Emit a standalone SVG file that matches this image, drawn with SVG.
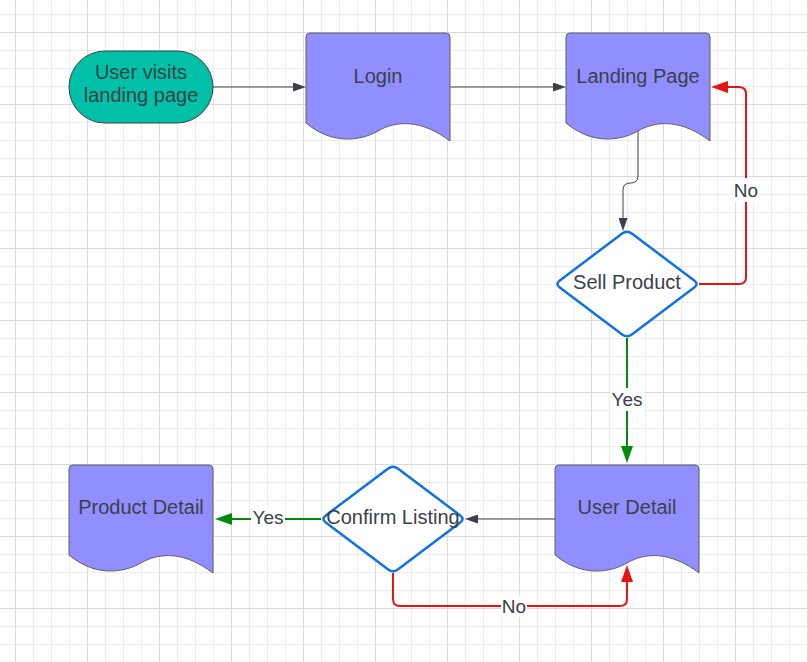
<svg xmlns="http://www.w3.org/2000/svg" xmlns:xlink="http://www.w3.org/1999/xlink" width="808" height="662" viewBox="0 0 808 662">
<style>
.t{font-family:"Liberation Sans",Arial,sans-serif;font-size:20px;fill:#3a414a;text-anchor:middle}
.lbl{font-family:"Liberation Sans",Arial,sans-serif;font-size:19px;fill:#3a414a;text-anchor:middle}
.doc{fill:#918fff;stroke:#5f5f66;stroke-width:1}
.dia{fill:#ffffff;stroke:#1071e5;stroke-width:2.5}
.ed{fill:none;stroke:#3a414a;stroke-width:1}
.er{fill:none;stroke:#e81313;stroke-width:2}
.eg{fill:none;stroke:#008a0e;stroke-width:2}
.lb{fill:#ffffff}
</style>
<defs>
<pattern id="grid" patternUnits="userSpaceOnUse" x="15" y="32" width="72" height="72">
<rect x="18" y="0" width="1" height="72" fill="#ececec"/>
<rect x="36" y="0" width="1" height="72" fill="#ececec"/>
<rect x="54" y="0" width="1" height="72" fill="#ececec"/>
<rect x="0" y="18" width="72" height="1" fill="#ececec"/>
<rect x="0" y="36" width="72" height="1" fill="#ececec"/>
<rect x="0" y="54" width="72" height="1" fill="#ececec"/>
<rect x="0" y="0" width="1" height="72" fill="#dadada"/>
<rect x="0" y="0" width="72" height="1" fill="#dadada"/>
</pattern>
<path id="docshape" d="M0,4 Q0,0 4,0 H140 Q144,0 144,4 V108 C115,86 90,87.5 72,98 C60,105 30,115 0,90 Z"/>
<marker id="ad" markerUnits="userSpaceOnUse" markerWidth="13" markerHeight="9" refX="7" refY="4.5" orient="auto"><path d="M0,0 L13,4.5 L0,9 Z" fill="#3a414a"/></marker>
<marker id="ar" markerUnits="userSpaceOnUse" markerWidth="17" markerHeight="12" refX="11" refY="6" orient="auto"><path d="M0,0 L17,6 L0,12 Z" fill="#e81313"/></marker>
<marker id="ag" markerUnits="userSpaceOnUse" markerWidth="17" markerHeight="12" refX="11" refY="6" orient="auto"><path d="M0,0 L17,6 L0,12 Z" fill="#008a0e"/></marker>
</defs>
<rect x="0" y="0" width="808" height="662" fill="#ffffff"/>
<rect x="0" y="0" width="808" height="662" fill="url(#grid)"/>

<g id="connectors">
<path class="ed" d="M213,87 H300" marker-end="url(#ad)"/>
<path class="ed" d="M450,87 H560" marker-end="url(#ad)"/>
<path class="ed" d="M638,131 V176 Q638,183 630.5,183 Q623,183 623,190 V225" marker-end="url(#ad)"/>
<path class="er" d="M699,284 H739 Q746,284 746,277 V94 Q746,87 739,87 H717" marker-end="url(#ar)"/>
<path class="eg" d="M627,338 V457" marker-end="url(#ag)"/>
<path class="ed" d="M555,519 H471" marker-end="url(#ad)"/>
<path class="eg" d="M321,519 H221" marker-end="url(#ag)"/>
<path class="er" d="M393,573 V599 Q393,606 400,606 H620 Q627,606 627,599 V571" marker-end="url(#ar)"/>
<g id="label-no-1"><rect class="lb" x="733" y="178" width="26" height="24"/><text class="lbl" x="746" y="197">No</text></g>
<g id="label-yes-1"><rect class="lb" x="610" y="388" width="34" height="23"/><text class="lbl" x="627" y="406">Yes</text></g>
<g id="label-yes-2"><rect class="lb" x="251" y="506" width="34" height="23"/><text class="lbl" x="268" y="524">Yes</text></g>
<g id="label-no-2"><rect class="lb" x="501" y="595" width="26" height="22"/><text class="lbl" x="514" y="613">No</text></g>
</g>

<g id="start">
<rect x="69" y="51" width="144" height="72" rx="36" ry="36" fill="#00c1a8" stroke="#3a414a" stroke-width="1"/>
<text class="t" x="141" y="79">User visits</text>
<text class="t" x="141" y="102">landing page</text>
</g>
<g id="login">
<use xlink:href="#docshape" class="doc" x="306" y="33"/>
<text class="t" x="378" y="83">Login</text>
</g>
<g id="landing-page">
<use xlink:href="#docshape" class="doc" x="566" y="33"/>
<text class="t" x="638" y="83">Landing Page</text>
</g>
<g id="sell-product">
<path class="dia" d="M631.8,233.6 L694.2,280.4 Q699,284 694.2,287.6 L631.8,334.4 Q627,338 622.2,334.4 L559.8,287.6 Q555,284 559.8,280.4 L622.2,233.6 Q627,230 631.8,233.6 Z"/>
<text class="t" x="627" y="289">Sell Product</text>
</g>
<g id="user-detail">
<use xlink:href="#docshape" class="doc" x="555" y="465"/>
<text class="t" x="627" y="514">User Detail</text>
</g>
<g id="confirm-listing">
<path class="dia" d="M397.8,468.6 L460.2,515.4 Q465,519 460.2,522.6 L397.8,569.4 Q393,573 388.2,569.4 L325.8,522.6 Q321,519 325.8,515.4 L388.2,468.6 Q393,465 397.8,468.6 Z"/>
<text class="t" x="393" y="524">Confirm Listing</text>
</g>
<g id="product-detail">
<use xlink:href="#docshape" class="doc" x="69" y="465"/>
<text class="t" x="141" y="514">Product Detail</text>
</g>
</svg>
